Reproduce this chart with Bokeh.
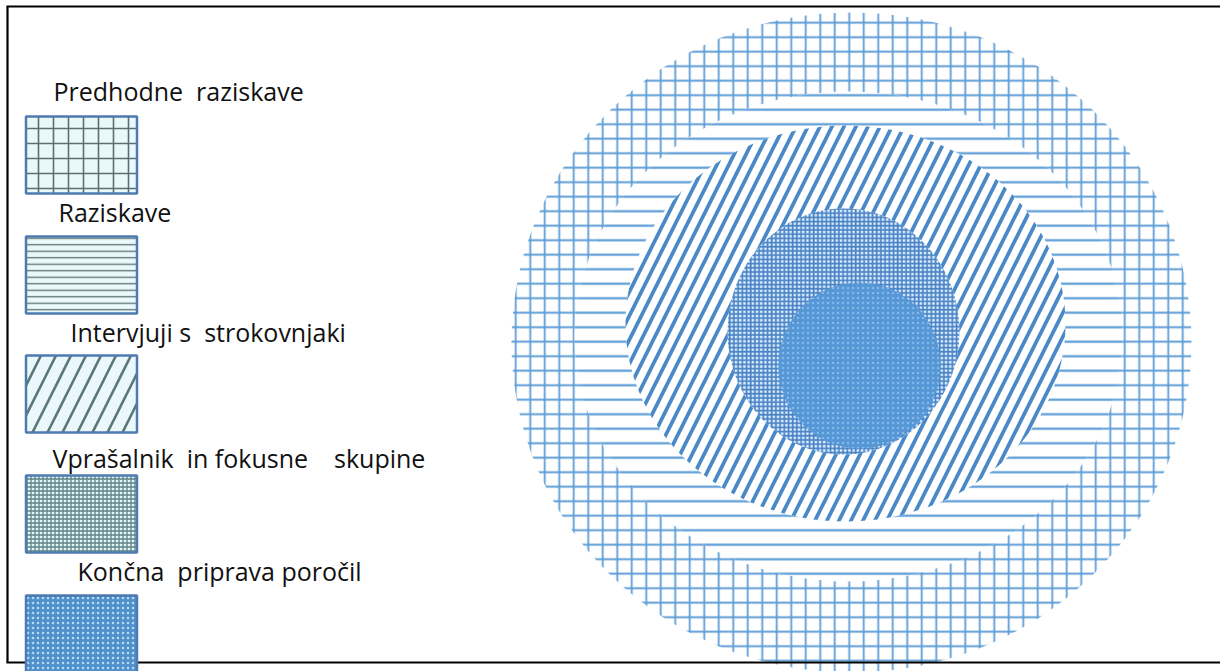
from bokeh.plotting import figure
from bokeh.models import Range1d, ColumnDataSource
from bokeh.embed import file_html
from bokeh.resources import INLINE
from bokeh.core.properties import value

# ---- data -------------------------------------------------------------
labels = ["Predhodne\u00a0 raziskave", "Raziskave", "Intervjuji s\u00a0 strokovnjaki",
          "Vprašalnik\u00a0 in fokusne\u00a0\u00a0\u00a0 skupine", "Končna\u00a0 priprava poročil"]
label_x = [53, 58, 70, 52, 77]
label_gap = [26, 25, 24, 18, 25]
legend_patterns = ["+", "-", "/", "+", "."]
legend_scales = [15, 6.5, 30, 4, 5]
legend_weights = [1.6, 1.3, 2.6, 1.3, 1.3]
legend_fills = ["#eaf8fb", "#eaf8fb", "#eaf8fb", "#e2f5f7", "#5090cb"]
legend_hatch = ["#5a7070", "#5a7070", "#5a7878", "#5f8386", "#b5dcf5"]

# rings (outer -> inner): centre x, centre y, width, height
ring_cx = [851, 848, 845, 843, 859]
ring_cy = [342, 336, 323, 331, 365]
ring_w = [680, 548, 440, 232, 162]
ring_h = [660, 490, 396, 246, 166]
ring_patterns = ["+", "-", "/", "+", "."]
ring_scales = [14.5, 14.5, 24, 4.2, 5]
ring_weights = [1.8, 2.2, 3.8, 1.7, 1.2]
ring_fill = ["white", "white", "white", "#dcefff", "#5596d4"]
ring_hatch = ["#5b9bd5", "#5b9bd5", "#4a89c8", "#4a82c4", "#84b9ea"]

W, H = 1220, 671
p = figure(width=W, height=H, output_backend="svg", toolbar_location=None,
           x_range=Range1d(0, W), y_range=Range1d(H, 0),
           x_axis_type=None, y_axis_type=None, min_border=0)
p.outline_line_color = None
p.background_fill_color = "white"
p.border_fill_color = "white"

# rings
p.ellipse(x=ring_cx, y=ring_cy, width=ring_w, height=ring_h,
          fill_color=ring_fill, line_color=None,
          hatch_pattern=ring_patterns, hatch_scale=ring_scales,
          hatch_weight=ring_weights, hatch_color=ring_hatch)

# frame (top, left, bottom edges; right edge lies outside the picture)
p.segment(x0=[6, 7, 6], y0=[6, 6, 662], x1=[1230, 7, 1230], y1=[6, 662, 662],
          line_color="black", line_width=2.2)

# legend
n = len(labels)
box_top = [116, 236, 355, 475, 595]
src = ColumnDataSource(dict(
    left=[25.5] * n, right=[136.5] * n, top=box_top, bottom=[t + 77 for t in box_top],
    fill=legend_fills, pat=legend_patterns, sc=legend_scales, wt=legend_weights,
    hc=legend_hatch))
p.quad(left="left", right="right", top="top", bottom="bottom", source=src,
       fill_color="fill", line_color="#4d7bb0", line_width=2.5,
       hatch_pattern="pat", hatch_scale="sc", hatch_weight="wt", hatch_color="hc")

p.text(x=label_x, y=[t - g for t, g in zip(box_top, label_gap)], text=labels,
       text_font=value("Open Sans"), text_font_size="25px", text_color="#111111",
       text_baseline="alphabetic", text_align="left")

open("out.html", "w").write(file_html(p, INLINE))
